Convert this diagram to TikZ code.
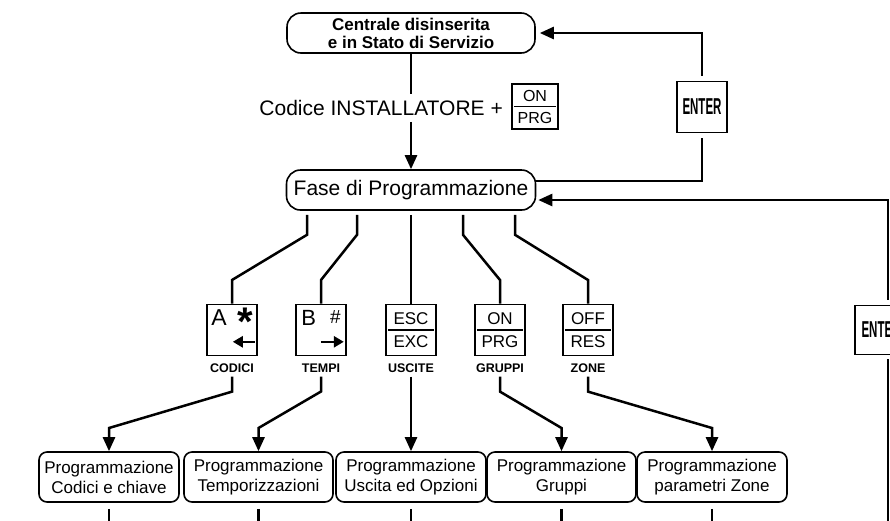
\documentclass[tikz,border=0pt]{standalone}
\usepackage{fontspec}
\setmainfont{Liberation Sans}
\newfontfamily\narrowfont[FakeStretch=0.5]{Liberation Sans}
\usetikzlibrary{arrows.meta}

\begin{document}
\begin{tikzpicture}[x=1pt,y=-1pt]
  \tikzset{state/.style = {shape=rectangle,draw,line width=1.6pt,rounded corners=14pt,minimum height=40pt,inner sep=1pt,align=center}}
  \tikzset{prog/.style = {shape=rectangle,draw,line width=1.6pt,rounded corners=8pt,minimum height=50pt,inner sep=1pt,align=center,font=\fontsize{17pt}{20pt}\selectfont}}
  \tikzset{key/.style = {shape=rectangle,draw,line width=1.6pt,minimum width=50pt,minimum height=51pt,inner sep=0pt,align=center,font=\fontsize{17pt}{23pt}\selectfont}}
  \tikzset{keylabel/.style = {inner sep=0pt,font=\bfseries\fontsize{12.5pt}{12pt}\selectfont}}
  \tikzset{conn/.style = {line width=2.5pt}}
  \tikzset{flow/.style = {conn,-{Triangle[length=14pt,width=12pt]}}}
  \tikzset{divider/.style = {line width=1.8pt}}
  \tikzset{pfeil/.style = {line width=2.6pt,-{Triangle[length=10pt,width=11pt]}}}
  \useasboundingbox (0,0) rectangle (890,520);
  \clip (0,0) rectangle (890,520);

	\node[state,minimum width=248pt,font=\bfseries\fontsize{17pt}{18pt}\selectfont] (centrale) at (411,33) {Centrale disinserita\\e in Stato di Servizio};
	\node[state,minimum width=249pt,font=\fontsize{21pt}{24pt}\selectfont] (fase) at (411,190) {Fase di Programmazione};
	\node[anchor=east,inner xsep=0pt,inner ysep=6pt,font=\fontsize{21pt}{24pt}\selectfont] (codice) at (503,108) {Codice INSTALLATORE +};
	\node[key,minimum width=46pt,minimum height=45pt,font=\fontsize{16pt}{22pt}\selectfont] (tasto) at (535,106.5) {ON\\PRG};
	\node[key,font=\narrowfont\bfseries\fontsize{23pt}{24pt}\selectfont] (enter) at (702,107) {ENTER};
	\node[key,minimum width=52pt,minimum height=49pt,font=\narrowfont\bfseries\fontsize{23pt}{24pt}\selectfont] (enterz) at (881,330) {ENTER};
	\coordinate (fondo) at (888,525);

	\node[key] (k1) at (232,330) {};
	\node[key] (k2) at (321,330) {};
	\node[key] (k3) at (411,330) {ESC\\EXC};
	\node[key] (k4) at (500,330) {ON\\PRG};
	\node[key] (k5) at (588,330) {OFF\\RES};
	\node[anchor=base west,inner sep=0pt,font=\fontsize{23pt}{23pt}\selectfont] (ka) at ([shift={(5,-5)}]k1.west) {A};
	\node[anchor=north east,inner sep=0pt,font=\bfseries\fontsize{40pt}{40pt}\selectfont] (kstar) at ([shift={(-5,4)}]k1.north east) {*};
	\node[anchor=base west,inner sep=0pt,font=\fontsize{22pt}{22pt}\selectfont] (kb) at ([shift={(6,-5)}]k2.west) {B};
	\node[anchor=north east,inner sep=0pt,font=\fontsize{19pt}{20pt}\selectfont] (khash) at ([shift={(-6,7)}]k2.north east) {\#};
	\draw[pfeil] ([shift={(-3,-14.5)}]k1.south east) -- ++(-22,0);
	\draw[pfeil] ([shift={(-26,-14.5)}]k2.south east) -- ++(23,0);
	\foreach \k in {k3,k4,k5,tasto}
	\draw[divider] ([xshift=3pt]\k.west) -- ([xshift=-3pt]\k.east);

	\node[keylabel] (l1) at (232,368) {CODICI};
	\node[keylabel] (l2) at (321,368) {TEMPI};
	\node[keylabel] (l3) at (411,368) {USCITE};
	\node[keylabel] (l4) at (500,368) {GRUPPI};
	\node[keylabel] (l5) at (588,368) {ZONE};

	\node[prog,minimum width=140pt] (p1) at (109,477) {Programmazione\\Codici e chiave};
	\node[prog,minimum width=149pt] (p2) at (258.5,477) {Programmazione\\Temporizzazioni};
	\node[prog,minimum width=150pt] (p3) at (411,477) {Programmazione\\Uscita ed Opzioni};
	\node[prog,minimum width=149pt] (p4) at (561.5,477) {Programmazione\\Gruppi};
	\node[prog,minimum width=150pt] (p5) at (712,477) {Programmazione\\parametri Zone};

	\draw[conn] (centrale.south) -- (centrale.south |- codice.north);
	\draw[flow] (centrale.south |- codice.south) -- (fase.north);
	\draw[flow,shorten <=5pt,shorten >=4pt] (enter.north) |- (centrale.east);
	\draw[conn,shorten >=5pt] ([yshift=9pt]fase.east) -| (enter.south);
	\draw[conn,shorten >=4pt] (fondo) -- (fondo |- enterz.south);
	\draw[flow,shorten <=5pt,shorten >=2pt] (fondo |- enterz.north) |- ([yshift=-10pt]fase.east);

    \foreach \dx/\i in {-104/1,-54/2,0/3,52/4,104/5}
    \draw[conn,shorten <=4pt] ([xshift=\dx pt]fase.south) -- ++(0,24) -- (k\i.north |- 0,280) -- (k\i.north);
    \foreach \i in {1,...,5}
    \draw[flow,shorten <=4pt] (l\i.south) -- ++(0,19) -- (p\i.north |- 0,428) -- (p\i.north);
    \foreach \i in {1,...,5}
    \draw[conn,shorten <=6pt] (p\i.south) -- (p\i.south |- fondo);
\end{tikzpicture}
\end{document}
